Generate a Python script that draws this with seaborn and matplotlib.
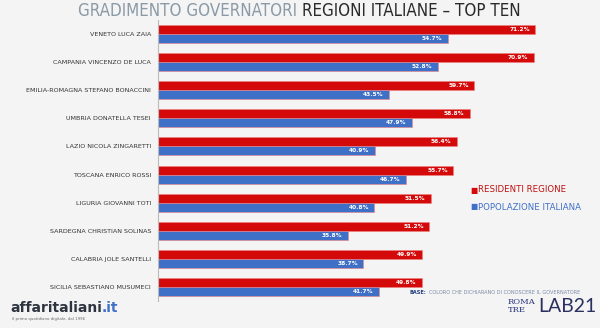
import matplotlib
matplotlib.use("Agg")
import matplotlib.pyplot as plt
import seaborn as sns
import pandas as pd
import numpy as np

categories = ["VENETO LUCA ZAIA", "CAMPANIA VINCENZO DE LUCA", "EMILIA-ROMAGNA STEFANO BONACCINI",
              "UMBRIA DONATELLA TESEI", "LAZIO NICOLA ZINGARETTI", "TOSCANA ENRICO ROSSI",
              "LIGURIA GIOVANNI TOTI", "SARDEGNA CHRISTIAN SOLINAS", "CALABRIA JOLE SANTELLI",
              "SICILIA SEBASTIANO MUSUMECI"]
residenti = [71.2, 70.9, 59.7, 58.8, 56.4, 55.7, 51.5, 51.2, 49.9, 49.8]
popolazione = [54.7, 52.8, 43.5, 47.9, 40.9, 46.7, 40.8, 35.8, 38.7, 41.7]
series_names = ["RESIDENTI REGIONE", "POPOLAZIONE ITALIANA"]
colors = ["#D40A0A", "#3F70C8"]

df = pd.DataFrame({
    "cat": categories * 2,
    "val": residenti + popolazione,
    "serie": [series_names[0]] * len(categories) + [series_names[1]] * len(categories),
})

sns.set_theme(style="white")
plt.rcParams["font.family"] = ["DejaVu Sans"]

fig = plt.figure(figsize=(6, 3.28), dpi=100)
fig.patch.set_facecolor("#F4F4F4")

W, H = 600, 328
x0, x1 = 158, 600
ytop, ybot = 20, 301
ax = fig.add_axes([x0 / W, 1 - ybot / H, (x1 - x0) / W, (ybot - ytop) / H])
ax.set_facecolor("none")

sns.barplot(data=df, y="cat", x="val", hue="serie", order=categories,
            hue_order=series_names, palette=colors, width=0.64, dodge=True,
            orient="h", ax=ax, legend=False, edgecolor="#F08080", linewidth=0.4,
            saturation=1)

ax.set_xlim(0, (x1 - x0) / 5.3)
ax.set_ylim(len(categories) - 0.5, -0.5)
ax.set_xlabel("")
ax.set_ylabel("")
ax.set_xticks([])
ax.tick_params(axis="y", length=0, pad=5, labelsize=4.6, labelcolor="#333333")
for s in ["top", "right", "bottom"]:
    ax.spines[s].set_visible(False)
ax.spines["left"].set_color("#BBBBBB")
ax.spines["left"].set_linewidth(0.8)

for cont in ax.containers:
    for bar in cont:
        w = bar.get_width()
        ax.text(w - 1.0, bar.get_y() + bar.get_height() / 2, f"{w:.1f}%",
                ha="right", va="center", fontsize=4.2, color="white", fontweight="bold")

renderer = fig.canvas.get_renderer()

def after(t, text, gap=0, **kw):
    bb = t.get_window_extent(renderer)
    return fig.text((bb.x1 + gap) / W, t.get_position()[1], text, **kw)

# Title
ty = 1 - 11 / H
t1 = fig.text(78 / W, ty, "GRADIMENTO GOVERNATORI", fontsize=12.2, color="#8A9AA6",
              va="center", ha="left", fontstretch="condensed", fontweight="light")
after(t1, "REGIONI ITALIANE – TOP TEN", gap=5, fontsize=12.2, color="#2A2A2A",
      va="center", ha="left", fontstretch="condensed")

# Legend
for i, (name, c) in enumerate(zip(series_names, colors)):
    yy = 1 - (190 + i * 17) / H
    fig.text(470 / W, yy, "■", color=c, fontsize=5.5, va="center", ha="left")
    fig.text(478 / W, yy, name, color="#C0100F" if i == 0 else "#3F70C8", fontsize=6.2,
             va="center", ha="left")

# Base note
b = fig.text(410 / W, 1 - 292 / H, "BASE:", fontsize=3.6, color="#1F3F7A", fontweight="bold",
             va="center", ha="left")
after(b, "COLORO CHE DICHIARANO DI CONOSCERE IL GOVERNATORE", gap=2,
      fontsize=3.6, color="#7A8AA6", va="center", ha="left")

# Footer logos as text
a = fig.text(10 / W, 1 - 308 / H, "affaritaliani", fontsize=10, color="#2E3440", fontweight="bold",
             va="center", ha="left")
after(a, ".it", gap=0, fontsize=10, color="#3F70C8", fontweight="bold", va="center", ha="left")
fig.text(12 / W, 1 - 319 / H, "il primo quotidiano digitale, dal 1996", fontsize=2.8,
         color="#666666", va="center", ha="left")
fig.text(508 / W, 1 - 306 / H, "ROMA\nTRE", fontsize=6, color="#26337A", va="center",
         ha="left", family="DejaVu Serif", linespacing=0.9)
fig.text(538 / W, 1 - 307 / H, "LAB21", fontsize=14, color="#2A3060", va="center",
         ha="left", family=["Lato", "DejaVu Sans"], fontweight="normal")

fig.savefig("out.png", dpi=100, facecolor=fig.get_facecolor())
